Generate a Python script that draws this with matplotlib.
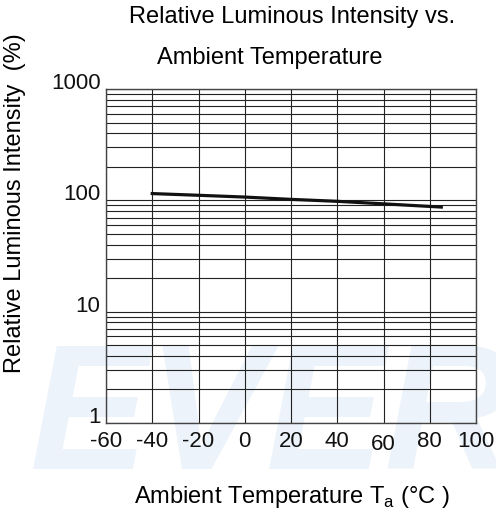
import matplotlib
matplotlib.use("Agg")
import matplotlib.pyplot as plt
import numpy as np

plt.rcParams['font.family'] = ['Liberation Sans', 'DejaVu Sans']
plt.rcParams['mathtext.fontset'] = 'custom'
plt.rcParams['mathtext.rm'] = 'Liberation Sans'

# data
temps = np.array([-40, -20, 0, 20, 40, 60, 85])
intensity = np.array([115, 111, 107, 102, 98, 93, 87])

xticks = [-60, -40, -20, 0, 20, 40, 60, 80, 100]
yticks = [1, 10, 100, 1000]
ytick_labels = ['1', '10', '100', '1000']

fig = plt.figure(figsize=(4.96, 5.15), dpi=100)

# faint watermark behind the chart
fig.text(0.06, 0.09, "EVERLIGHT", fontsize=128, fontweight='bold', style='italic',
         color='#ecf3fa', zorder=-1)

ax = fig.add_axes([106/496, 1-423/515, 370/496, 334/515])
ax.patch.set_alpha(0)

ax.plot(temps, intensity, color='#111111', lw=2.3, zorder=3)

ax.set_yscale('log')
ax.set_xlim(-60, 100)
ax.set_ylim(1, 1000)
ax.set_xticks(xticks, [str(t) for t in xticks])
ax.set_yticks(yticks, ytick_labels)
ax.grid(which='both', color='#222222', lw=0.8)
ax.tick_params(which='both', length=0, labelsize=16, colors='#111111')
ax.tick_params(axis='x', pad=6)
ax.tick_params(axis='y', pad=4)
for lbl in ax.get_yticklabels():
    lbl.set_va('baseline')
for s in ax.spines.values():
    s.set_color('#444444')
    s.set_linewidth(1.0)

# the "60" label sits a bit lower in the original
ax.xaxis.get_major_ticks()[6].set_pad(8)

fig.text(292/496, 1-17/515, "Relative Luminous Intensity vs.", ha='center', va='center', fontsize=17)
fig.text(270/496, 1-58/515, "Ambient Temperature", ha='center', va='center', fontsize=17)
fig.text(15/496, 1-203/515, "Relative Luminous Intensity  (%)", rotation=90,
         ha='center', va='center', fontsize=17)
fig.text(292/496, 1-497/515, r"Ambient Temperature T$_{\mathrm{a}}$ (°C )",
         ha='center', va='center', fontsize=17)

fig.savefig("out.png", dpi=100)
